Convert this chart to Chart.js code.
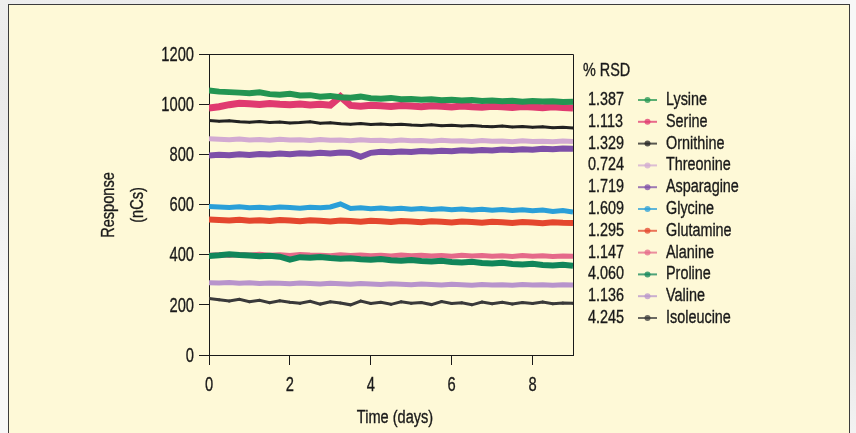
<!DOCTYPE html>
<html>
<head>
<meta charset="utf-8">
<title>Amino acid response stability</title>
<script src="https://cdn.jsdelivr.net/npm/chart.js@4.4.1/dist/chart.umd.min.js"></script>
<style>
  html, body {
    margin: 0;
    padding: 0;
    width: 856px;
    height: 433px;
    overflow: hidden;
    background:
      radial-gradient(ellipse at 15% 20%, #e6e6e6 0%, rgba(230,230,230,0) 45%),
      radial-gradient(ellipse at 90% 70%, #e2e2e2 0%, rgba(226,226,226,0) 40%),
      #f7f7f7;
  }
  .panel {
    position: absolute;
    left: 8px;
    top: 4px;
    width: 842px;
    height: 450px;
    box-sizing: border-box;
    border: 1px solid #3c3c3c;
    background: #fef9d7;
  }
  #chart-wrap {
    position: absolute;
    left: 0;
    top: 0;
    width: 856px;
    height: 433px;
  }
</style>
</head>
<body>
<div class="panel"></div>
<div id="chart-wrap"><canvas id="response-chart"></canvas></div>
<script>
// Sampling times (days)
const days = [0, 0.25, 0.5, 0.75, 1, 1.25, 1.5, 1.75, 2, 2.25, 2.5, 2.75, 3, 3.25, 3.5, 3.75, 4, 4.25, 4.5,
  4.75, 5, 5.25, 5.5, 5.75, 6, 6.25, 6.5, 6.75, 7, 7.25, 7.5, 7.75, 8, 8.25, 8.5, 8.75, 9];

// Detector response (nC) per amino acid
const lysine = [1055, 1050, 1048, 1046, 1044, 1047, 1040, 1038, 1041, 1035, 1036, 1030, 1033, 1028, 1026, 1030,
  1024, 1022, 1025, 1020, 1021, 1018, 1020, 1016, 1018, 1015, 1017, 1013, 1015, 1012, 1014, 1010, 1013, 1011,
  1012, 1009, 1010];
const serine = [985, 990, 998, 1004, 1002, 999, 1003, 1000, 998, 1001, 997, 1000, 996, 1030, 995, 992, 996, 994,
  991, 995, 993, 990, 994, 992, 989, 993, 990, 988, 992, 990, 987, 991, 989, 986, 990, 987, 985];
const ornithine = [935, 932, 934, 930, 928, 931, 927, 929, 925, 927, 930, 924, 926, 922, 920, 923, 919, 921, 918,
  920, 917, 915, 918, 914, 916, 913, 915, 912, 910, 913, 909, 911, 908, 910, 906, 908, 905];
const threonine = [862, 860, 858, 861, 857, 859, 856, 860, 857, 858, 855, 859, 856, 857, 854, 858, 855, 856, 853,
  857, 854, 855, 852, 856, 853, 854, 851, 855, 852, 853, 850, 854, 851, 852, 850, 853, 851];
const asparagine = [795, 798, 796, 800, 797, 801, 799, 803, 800, 804, 802, 806, 803, 807, 805, 790, 806, 810, 808,
  811, 809, 813, 811, 814, 812, 816, 814, 817, 815, 819, 817, 820, 818, 822, 820, 823, 822];
const glycine = [592, 590, 588, 591, 587, 589, 586, 590, 588, 585, 589, 587, 590, 602, 584, 587, 583, 586, 582,
  585, 581, 584, 580, 583, 579, 582, 578, 581, 577, 580, 576, 579, 575, 578, 572, 576, 570];
const glutamine = [540, 538, 536, 539, 535, 537, 534, 538, 536, 533, 537, 535, 532, 536, 534, 531, 535, 533, 530,
  534, 532, 529, 533, 531, 528, 532, 530, 527, 531, 529, 526, 530, 528, 525, 529, 527, 526];
const alanine = [398, 400, 397, 401, 399, 402, 398, 400, 397, 401, 399, 398, 396, 400, 397, 399, 396, 398, 395,
  399, 396, 398, 395, 397, 394, 398, 395, 397, 394, 396, 393, 397, 394, 396, 393, 395, 394];
const proline = [395, 398, 402, 399, 397, 394, 396, 392, 380, 390, 388, 391, 387, 384, 386, 382, 380, 383, 378,
  376, 379, 375, 373, 376, 371, 369, 372, 367, 365, 368, 363, 361, 364, 359, 357, 360, 356];
const valine = [288, 287, 289, 286, 288, 285, 287, 286, 284, 287, 285, 283, 286, 284, 282, 285, 283, 281, 284,
  282, 280, 283, 281, 279, 282, 280, 278, 281, 279, 280, 278, 281, 279, 280, 278, 280, 279];
const isoleucine = [225, 220, 215, 222, 212, 218, 208, 216, 210, 206, 214, 203, 212, 207, 200, 215, 205, 210, 202,
  212, 206, 209, 201, 213, 205, 208, 200, 211, 204, 210, 203, 209, 205, 211, 204, 207, 206];

const names = ['Lysine', 'Serine', 'Ornithine', 'Threonine', 'Asparagine', 'Glycine', 'Glutamine', 'Alanine',
  'Proline', 'Valine', 'Isoleucine'];
const rsd = ['1.387', '1.113', '1.329', '0.724', '1.719', '1.609', '1.295', '1.147', '4.060', '1.136', '4.245'];
const series = [lysine, serine, ornithine, threonine, asparagine, glycine, glutamine, alanine, proline, valine,
  isoleucine];

// Axis ticks
const xTicks = [0, 2, 4, 6, 8];
const yTicks = [0, 200, 400, 600, 800, 1000, 1200];

const colors = ['#239552', '#e03a70', '#222222', '#d2aad2', '#7d4fa8', '#2a9fd8', '#e4472e', '#e56a8a',
  '#11865a', '#b894cc', '#3a3a3a'];
const widths = [6, 7, 3, 5, 6, 5, 6, 5, 6, 5, 3];
const points = [0, 0, 1.2, 0, 0, 0, 0, 0, 0, 0, 1.5];

const INK = '#1a1a1a';
const FONT = '"Liberation Sans", Arial, sans-serif';

// Helvetica-condensed look: squeeze text horizontally, thicken a touch
function condensed(ctx, txt, x, y, align, k) {
    ctx.save();
    ctx.translate(x, y);
    ctx.scale(k, 1);
    ctx.textAlign = align;
    ctx.strokeStyle = ctx.fillStyle;
    ctx.lineWidth = 0.35;
    ctx.fillText(txt, 0, 0);
    ctx.strokeText(txt, 0, 0);
    ctx.restore();
}

// Frame (top/right), tick labels, axis titles and the %RSD key
const frameAndKey = {
    id: 'frameAndKey',
    afterDraw(chart) {
        const { ctx, chartArea: a } = chart;
        const xs = chart.scales.x;
        const ys = chart.scales.y;
        ctx.save();
        ctx.strokeStyle = INK;
        ctx.lineWidth = 1;
        ctx.beginPath();
        ctx.moveTo(a.left, Math.round(a.top) + 0.5);
        ctx.lineTo(Math.round(a.right) + 0.5, Math.round(a.top) + 0.5);
        ctx.lineTo(Math.round(a.right) + 0.5, a.bottom);
        ctx.stroke();

        ctx.fillStyle = INK;
        ctx.textBaseline = 'middle';

        // tick labels
        ctx.font = '21px ' + FONT;
        yTicks.forEach(v => condensed(ctx, String(v), 194, ys.getPixelForValue(v) + 1, 'right', 0.7));
        xTicks.forEach(v => condensed(ctx, String(v), xs.getPixelForValue(v), 385, 'center', 0.7));

        ctx.font = '18px ' + FONT;

        // x title
        condensed(ctx, 'Time (days)', 395, 418, 'center', 0.81);

        // y title, two rotated lines
        [['Response', 109], ['(nCs)', 138]].forEach(([txt, x]) => {
            ctx.save();
            ctx.translate(x, 205);
            ctx.rotate(-Math.PI / 2);
            condensed(ctx, txt, 0, 0, 'center', 0.81);
            ctx.restore();
        });

        // key
        condensed(ctx, '% RSD', 583, 71, 'left', 0.8);
        names.forEach((name, i) => {
            const y = 100 + i * 21.8;
            ctx.fillStyle = INK;
            condensed(ctx, rsd[i], 588, y, 'left', 0.8);
            condensed(ctx, name, 666, y, 'left', 0.8);
            ctx.globalAlpha = 0.75;
            ctx.strokeStyle = colors[i];
            ctx.lineWidth = 2;
            ctx.beginPath();
            ctx.moveTo(638, y);
            ctx.lineTo(657, y);
            ctx.stroke();
            ctx.fillStyle = colors[i];
            ctx.beginPath();
            ctx.arc(647.5, y, 3, 0, Math.PI * 2);
            ctx.fill();
            ctx.globalAlpha = 1;
        });
        ctx.restore();
    }
};

const datasets = series.map((vals, i) => ({
    label: names[i],
    data: days.map((d, j) => ({ x: d, y: vals[j] })),
    borderColor: colors[i],
    backgroundColor: colors[i],
    borderWidth: widths[i],
    pointRadius: points[i],
    pointBorderWidth: 0,
    tension: 0,
    order: names[i] === 'Proline' ? -1 : i
}));

new Chart(document.getElementById('response-chart'), {
    type: 'line',
    data: { datasets },
    options: {
        responsive: true,
        maintainAspectRatio: false,
        animation: false,
        layout: { padding: { left: 0, right: 283, top: 54, bottom: 0 } },
        plugins: {
            legend: { display: false },
            tooltip: { enabled: false }
        },
        scales: {
            x: {
                type: 'linear',
                min: 0,
                max: 9,
                afterFit: (scale) => { scale.height = 78; },
                afterBuildTicks: (scale) => { scale.ticks = xTicks.map(v => ({ value: v })); },
                ticks: { display: false },
                grid: { drawOnChartArea: false, tickLength: 10, color: INK, tickWidth: 1 },
                border: { color: INK, width: 1 }
            },
            y: {
                min: 0,
                max: 1200,
                afterFit: (scale) => { scale.width = 209; },
                afterBuildTicks: (scale) => { scale.ticks = yTicks.map(v => ({ value: v })); },
                ticks: { display: false },
                grid: { drawOnChartArea: false, tickLength: 10, color: INK, tickWidth: 1 },
                border: { color: INK, width: 1 }
            }
        }
    },
    plugins: [frameAndKey]
});
</script>
</body>
</html>
